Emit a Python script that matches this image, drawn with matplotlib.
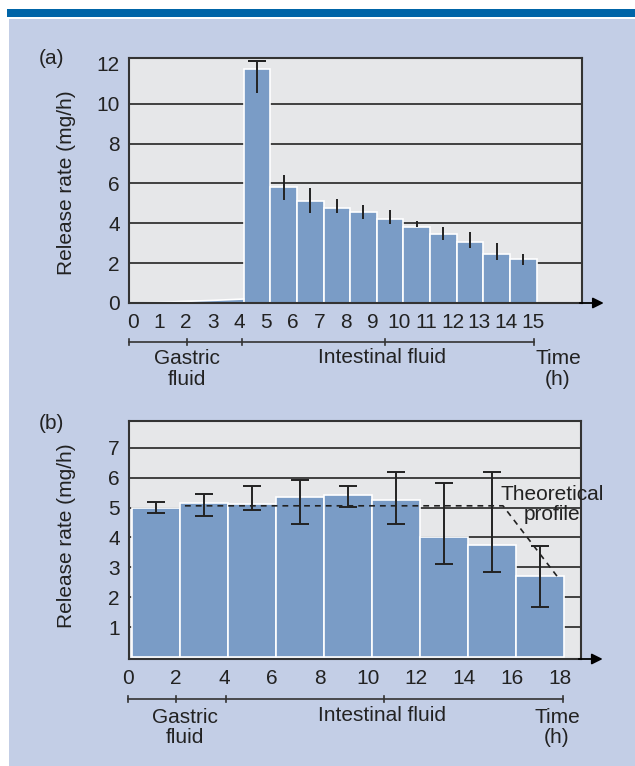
import matplotlib.pyplot as plt
from matplotlib.patches import Rectangle
from matplotlib.transforms import ScaledTranslation, blended_transform_factory

plt.rcParams["font.family"] = ["Liberation Sans", "DejaVu Sans"]
plt.rcParams["font.size"] = 15

BG = "#C3CEE6"
AX_BG = "#E6E7E9"
BAR = "#7A9CC6"
INK = "#222222"

# (a) hourly release, 4-15 h in intestinal fluid
hours_a = [4, 5, 6, 7, 8, 9, 10, 11, 12, 13, 14]
rate_a = [11.74, 5.84, 5.13, 4.75, 4.59, 4.23, 3.84, 3.47, 3.05, 2.45, 2.20]
err_a_hi = [12.13, 6.43, 5.77, 5.21, 4.94, 4.65, 4.13, 3.84, 3.57, 3.03, 2.47]
err_a_lo = [10.52, 5.19, 4.52, 4.50, 4.23, 3.96, 3.84, 3.15, 2.74, 2.18, 1.93]
# gastric phase release (0-4 h)
gastric_h = [0, 1, 2, 3, 4]
gastric_rate = [0.0, 0.04, 0.09, 0.14, 0.2]
ticks_a = list(range(16))
marks_a = [-0.3, 1.86, 3.93, 9.3, 14.9]

# (b) two-hour release intervals
hours_b = [0, 2, 4, 6, 8, 10, 12, 14, 16]
rate_b = [4.99, 5.16, 5.13, 5.34, 5.42, 5.26, 4.00, 3.76, 2.70]
err_b_hi = [5.19, 5.44, 5.71, 5.91, 5.71, 6.18, 5.82, 6.18, 3.72]
err_b_lo = [4.82, 4.73, 4.92, 4.46, 5.01, 4.46, 3.12, 2.84, 1.66]
theory_x = [2.2, 15.45, 17.8]
theory_y = [5.06, 5.06, 2.6]
ticks_b = list(range(0, 19, 2))
marks_b = [-0.17, 1.83, 3.92, 10.5, 17.96]

fig = plt.figure(figsize=(6.35, 7.66), dpi=100)
fig.patch.set_facecolor("white")
fig.patches.append(Rectangle((9 / 635, 0), 1, 1 - 19 / 766, transform=fig.transFigure,
                             facecolor=BG, edgecolor="none", zorder=-10))
fig.patches.append(Rectangle((7 / 635, 1 - 17 / 766), 1, 8 / 766, transform=fig.transFigure,
                             facecolor="#0065A8", edgecolor="none", zorder=-10))


def style_axes(ax):
    ax.set_facecolor(AX_BG)
    for s in ax.spines.values():
        s.set_color("#333333")
        s.set_linewidth(1.5)
    ax.tick_params(length=0, colors=INK)
    ax.tick_params(axis="y", pad=6.5)
    ax.tick_params(axis="x", pad=7)
    ax.annotate("", xy=(1.048, 0), xytext=(0.995, 0), xycoords="axes fraction",
                arrowprops=dict(arrowstyle="-|>", color="black", lw=1.3,
                                mutation_scale=16, shrinkA=0, shrinkB=0))
    shift = ScaledTranslation(-3 / 72, 0, fig.dpi_scale_trans)
    for lab in ax.get_xticklabels():
        lab.set_transform(lab.get_transform() + shift)


def phase_bracket(ax, marks, y, gastric_x, gas_y, intest_x, int_y, time_x):
    tr = blended_transform_factory(ax.transData, ax.transAxes)
    ax.plot([marks[0], marks[-1]], [y, y], color="#333333", lw=1.2,
            transform=tr, clip_on=False)
    for m in marks:
        ax.plot([m, m], [y - 0.012, y + 0.012], color="#333333", lw=1.2,
                transform=tr, clip_on=False)
    ax.text(gastric_x, gas_y, "Gastric\nfluid", ha="center", va="center",
            transform=tr, color=INK, linespacing=1.1)
    ax.text(intest_x, int_y, "Intestinal fluid", ha="center", va="center",
            transform=tr, color=INK)
    ax.text(time_x, gas_y, "Time\n(h)", ha="center", va="center",
            transform=tr, color=INK, linespacing=1.1)


# ---- panel (a)
ax1 = fig.add_axes([129 / 635, 1 - 303 / 766, 453 / 635, 245 / 766])
ax1.set_xlim(-0.3, 16.7)
ax1.set_ylim(0, 12.3)
for g in [2, 4, 6, 8, 10]:
    ax1.axhline(g, color="#333333", lw=1.3, zorder=0.5)
ax1.fill_between(gastric_h, 0, gastric_rate, color=BAR, edgecolor="none", zorder=1)
ax1.plot(gastric_h, gastric_rate, color="white", lw=1.2, zorder=1.5)
ax1.bar(hours_a, rate_a, width=1, align="edge", color=BAR, edgecolor="white",
        linewidth=1.2, zorder=1)
mid_a = [h + 0.5 for h in hours_a]
yerr_a = [[r - lo for r, lo in zip(rate_a, err_a_lo)],
          [hi - r for r, hi in zip(rate_a, err_a_hi)]]
ax1.errorbar(mid_a, rate_a, yerr=yerr_a, fmt="none", ecolor=INK, elinewidth=1.4,
             capsize=0, zorder=3)
# cap on the peak bar only
ax1.errorbar(mid_a[:1], [err_a_hi[0]], yerr=[[0], [0]], fmt="none", ecolor=INK,
             elinewidth=1.4, capsize=6.5, capthick=1.4, zorder=3)
ax1.set_yticks([0, 2, 4, 6, 8, 10, 12])
ax1.set_xticks(ticks_a)
style_axes(ax1)
ax1.text(-0.139, 0.49, "Release rate (mg/h)", rotation=90, ha="center", va="center",
         transform=ax1.transAxes, color=INK)
fig.text(51 / 635, 1 - 59 / 766, "(a)", ha="center", va="center", color=INK)
phase_bracket(ax1, marks_a, -0.158, 1.86, -0.269, 9.2, -0.224, 15.8)

# ---- panel (b)
ax2 = fig.add_axes([129 / 635, 1 - 659 / 766, 452 / 635, 238 / 766])
ax2.set_xlim(-0.13, 18.7)
ax2.set_ylim(-0.07, 7.9)
for g in range(1, 8):
    ax2.axhline(g, color="#333333", lw=1.3, zorder=0.5)
ax2.bar(hours_b, rate_b, width=2, align="edge", bottom=0, color=BAR,
        edgecolor="white", linewidth=1.2, zorder=1)
mid_b = [h + 1 for h in hours_b]
yerr_b = [[r - lo for r, lo in zip(rate_b, err_b_lo)],
          [hi - r for r, hi in zip(rate_b, err_b_hi)]]
ax2.errorbar(mid_b, rate_b, yerr=yerr_b, fmt="none", ecolor=INK, elinewidth=1.4,
             capsize=6.5, capthick=1.4, zorder=3)
ax2.plot(theory_x, theory_y, color=INK, lw=1.2, ls=(0, (3.5, 3)), zorder=4)
ax2.text(17.5, 5.1, "Theoretical\nprofile", ha="center", va="center", color=INK,
         linespacing=1.05, zorder=5)
ax2.set_yticks(range(1, 8))
ax2.set_xticks(ticks_b)
style_axes(ax2)
ax2.text(-0.139, 0.52, "Release rate (mg/h)", rotation=90, ha="center", va="center",
         transform=ax2.transAxes, color=INK)
fig.text(51 / 635, 1 - 423 / 766, "(b)", ha="center", va="center", color=INK)
phase_bracket(ax2, marks_b, -0.169, 2.2, -0.288, 10.4, -0.239, 17.7)

fig.savefig("out.png", dpi=100)
